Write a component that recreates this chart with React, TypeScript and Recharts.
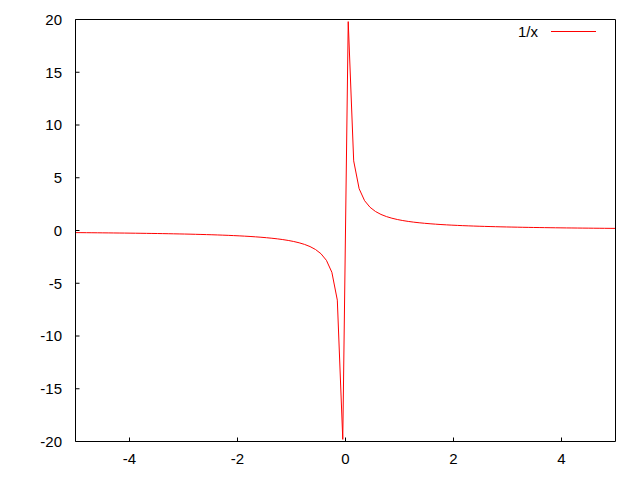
import React from 'react';
import { LineChart, Line, XAxis, YAxis, Legend } from 'recharts';

const sampleX = [
  -5, -4.899, -4.798, -4.697, -4.596, -4.4949, -4.3939, -4.2929, -4.1919, -4.0909,
  -3.9899, -3.8889, -3.7879, -3.6869, -3.5859, -3.4848, -3.3838, -3.2828, -3.1818, -3.0808,
  -2.9798, -2.8788, -2.7778, -2.6768, -2.5758, -2.4747, -2.3737, -2.2727, -2.1717, -2.0707,
  -1.9697, -1.8687, -1.7677, -1.6667, -1.5657, -1.4646, -1.3636, -1.2626, -1.1616, -1.0606,
  -0.9596, -0.8586, -0.7576, -0.6566, -0.5556, -0.4545, -0.3535, -0.2525, -0.1515, -0.0505,
  0.0505, 0.1515, 0.2525, 0.3535, 0.4545, 0.5556, 0.6566, 0.7576, 0.8586, 0.9596,
  1.0606, 1.1616, 1.2626, 1.3636, 1.4646, 1.5657, 1.6667, 1.7677, 1.8687, 1.9697,
  2.0707, 2.1717, 2.2727, 2.3737, 2.4747, 2.5758, 2.6768, 2.7778, 2.8788, 2.9798,
  3.0808, 3.1818, 3.2828, 3.3838, 3.4848, 3.5859, 3.6869, 3.7879, 3.8889, 3.9899,
  4.0909, 4.1919, 4.2929, 4.3939, 4.4949, 4.596, 4.697, 4.798, 4.899, 5,
];

const valuesY = [
  -0.2, -0.2041, -0.2084, -0.2129, -0.2176, -0.2225, -0.2276, -0.2329, -0.2386, -0.2444,
  -0.2506, -0.2571, -0.264, -0.2712, -0.2789, -0.287, -0.2955, -0.3046, -0.3143, -0.3246,
  -0.3356, -0.3474, -0.36, -0.3736, -0.3882, -0.4041, -0.4213, -0.44, -0.4605, -0.4829,
  -0.5077, -0.5351, -0.5657, -0.6, -0.6387, -0.6828, -0.7333, -0.792, -0.8609, -0.9429,
  -1.0421, -1.1647, -1.32, -1.5231, -1.8, -2.2, -2.8286, -3.96, -6.6, -19.8,
  19.8, 6.6, 3.96, 2.8286, 2.2, 1.8, 1.5231, 1.32, 1.1647, 1.0421,
  0.9429, 0.8609, 0.792, 0.7333, 0.6828, 0.6387, 0.6, 0.5657, 0.5351, 0.5077,
  0.4829, 0.4605, 0.44, 0.4213, 0.4041, 0.3882, 0.3736, 0.36, 0.3474, 0.3356,
  0.3246, 0.3143, 0.3046, 0.2955, 0.287, 0.2789, 0.2712, 0.264, 0.2571, 0.2506,
  0.2444, 0.2386, 0.2329, 0.2276, 0.2225, 0.2176, 0.2129, 0.2084, 0.2041, 0.2,
];

const xTicks = [-4, -2, 0, 2, 4];
const yTicks = [-20, -15, -10, -5, 0, 5, 10, 15, 20];
const xDomain = [-5, 5];
const yDomain = [-20, 20];
const seriesName = '1/x';

const data = sampleX.map((x, i) => ({ x, y: valuesY[i] }));

const FONT = 'Liberation Sans, Arial, sans-serif';
const tickStyle = { fill: '#000', fontSize: 15, fontFamily: FONT };

const LegendBox = (props: any) => {
  const p = props && props.payload && props.payload[0];
  const label = p ? p.value : seriesName;
  const color = p && p.color ? p.color : '#ff0000';
  return (
    <svg width={130} height={24} style={{ display: 'block', overflow: 'visible' }}>
      <text x={58} y={17} textAnchor="end" fill="#000" fontSize={15} fontFamily={FONT}>
        {label}
      </text>
      <line x1={71} x2={116} y1={11.5} y2={11.5} stroke={color} strokeWidth={1} />
    </svg>
  );
};

export default function App() {
  return (
    <div style={{ position: 'absolute', left: 0, top: 0, width: 640, height: 480, background: '#fff' }}>
      <LineChart
        width={640}
        height={480}
        data={data}
        margin={{ top: 18.5, right: 23.5, bottom: 8.5, left: 15.5 }}
      >
        <XAxis
          xAxisId="b"
          dataKey="x"
          type="number"
          domain={xDomain}
          ticks={xTicks}
          orientation="bottom"
          height={30}
          tickSize={-4}
          tickMargin={15.5}
          stroke="#000"
          tick={tickStyle}
          allowDataOverflow
        />
        <XAxis
          xAxisId="t"
          dataKey="x"
          type="number"
          domain={xDomain}
          ticks={xTicks}
          orientation="top"
          height={1}
          tickSize={-4}
          stroke="#000"
          tick={false}
          allowDataOverflow
        />
        <YAxis
          yAxisId="l"
          type="number"
          domain={yDomain}
          ticks={yTicks}
          width={60}
          tickSize={-4}
          tickMargin={17.5}
          stroke="#000"
          tick={tickStyle}
          allowDataOverflow
        />
        <YAxis
          yAxisId="r"
          orientation="right"
          type="number"
          domain={yDomain}
          ticks={yTicks}
          width={1}
          tickSize={-4}
          stroke="#000"
          tick={false}
          allowDataOverflow
        />
        <Legend
          layout="vertical"
          align="center"
          verticalAlign="middle"
          wrapperStyle={{ position: 'absolute', left: 480, top: 20, width: 130, height: 24 }}
          content={LegendBox}
        />
        <Line
          xAxisId="b"
          yAxisId="l"
          dataKey="y"
          name={seriesName}
          type="linear"
          stroke="#ff0000"
          strokeWidth={1}
          dot={false}
          activeDot={false}
          isAnimationActive={false}
        />
      </LineChart>
    </div>
  );
}
